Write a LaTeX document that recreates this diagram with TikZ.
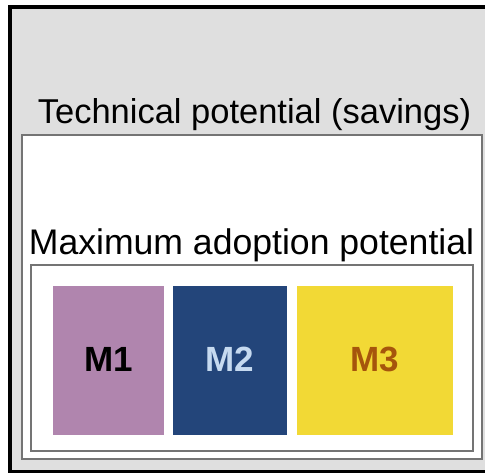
\documentclass[tikz,border=0pt]{standalone}
\usepackage{fontspec}
\setmainfont{Liberation Sans}
\definecolor{panelgray}{HTML}{DFDFDF}
\definecolor{framegray}{HTML}{747474}
\definecolor{mone}{HTML}{B085AE}
\definecolor{mtwo}{HTML}{23457A}
\definecolor{mtwotext}{HTML}{C6DAF0}
\definecolor{mthree}{HTML}{F2D935}
\definecolor{mthreetext}{HTML}{A6550C}
\tikzset{
  region/.style={draw=framegray, line width=2pt, fill=white, inner sep=0pt},
  measure/.style={inner sep=0pt, font=\fontsize{35}{35}\selectfont\bfseries},
  heading/.style={inner sep=0pt, anchor=base, font=\fontsize{34.5}{35}\selectfont},
}
\begin{document}
\begin{tikzpicture}[x=1pt, y=-1pt]
\useasboundingbox (0,0) rectangle (485,473);
\clip (0,0) rectangle (485,473);
% outer panel, running off the right edge
\draw[line width=4pt, fill=panelgray] (10,7) rectangle (500,472);
\coordinate (outer) at (10,7);
% technical potential box
\draw[region] (22,135) rectangle (482,459);
\coordinate (tech) at (22,135);
\node[heading] (techlabel) at (254.5,124) {Technical potential (savings)};
% maximum adoption box
\draw[region] (31,265) rectangle (473,451);
\coordinate (maxad) at (31,265);
\node[heading, font=\fontsize{35.6}{36}\selectfont] (maxlabel) at (251.5,255) {Maximum adoption potential};
% measures
\fill[mone] (53,286) rectangle (164,435);
\node[measure, text=black] (m1) at (108.5,359.5) {M1};
\fill[mtwo] (173,286) rectangle (287,435);
\node[measure, text=mtwotext] (m2) at (230,359.5) {M2};
\fill[mthree] (297,286) rectangle (453,435);
\node[measure, text=mthreetext] (m3) at (375,359.5) {M3};
\end{tikzpicture}
\end{document}
